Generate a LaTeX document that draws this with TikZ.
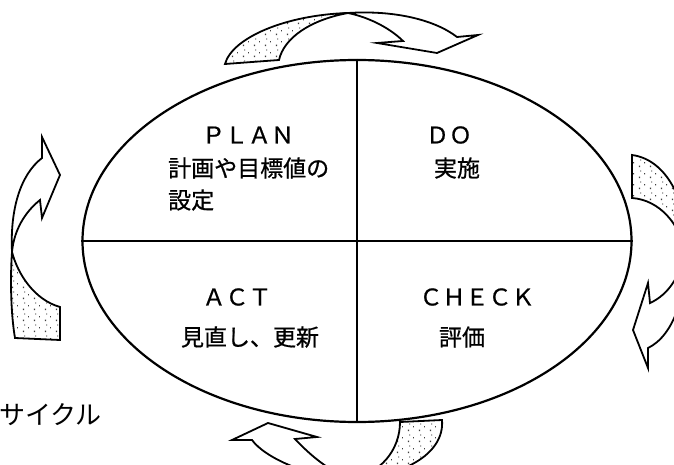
\documentclass[tikz,border=0pt]{standalone}
\usepackage{fontspec}
\newfontfamily\jp[FakeBold=0.7]{Noto Sans CJK JP}
\newfontfamily\jpl{Noto Sans CJK JP}
\usetikzlibrary{shapes.geometric,patterns.meta}
\tikzdeclarepattern{
  name=speckle,
  type=uncolored,
  bounding box={(0pt,0pt) and (11pt,11pt)},
  tile size={(11pt,11pt)},
  code={
    \fill (1pt,1pt) rectangle (2.3pt,2.5pt);
    \fill (6.5pt,5pt) rectangle (7.5pt,6.3pt);
    \fill (2.5pt,8pt) rectangle (3.3pt,9.2pt);
  }
}
\tikzset{
  band/.style={draw=black, line width=1.8pt, line join=miter, fill=white},
  tailpart/.style={draw=black, line width=1.8pt, line join=miter, pattern=speckle, pattern color=black!75},
  lbl/.style={font=\jp\fontsize{23}{27}\selectfont, inner sep=0pt},
}
\begin{document}
\begin{tikzpicture}[x=1pt,y=-1pt]
\useasboundingbox (0,0) rectangle (674,465);
\clip (0,0) rectangle (674,465);
\fill[white] (0,0) rectangle (674,465);

% main ellipse and dividers
\node[ellipse, draw, line width=2.2pt, minimum width=549pt, minimum height=362pt, inner sep=0pt] (cyc) at (357,241) {};
\draw[line width=2.2pt] (cyc.north) -- (cyc.south);
\draw[line width=1.6pt] (cyc.west) -- (cyc.east);

% quadrant texts
\node[lbl] (plan) at (248,135) {ＰＬＡＮ};
\node[lbl, anchor=west] (plan1) at (168,168) {計画や目標値の};
\node[lbl, anchor=west] (plan2) at (168,200) {設定};
\node[lbl] (do) at (449,135) {ＤＯ};
\node[lbl] (do1) at (457,168) {実施};
\node[lbl] (act) at (237,297) {ＡＣＴ};
\node[lbl] (act1) at (250,337) {見直し、更新};
\node[lbl] (check) at (477,297) {ＣＨＥＣＫ};
\node[lbl] (check1) at (462,337) {評価};
\node[font=\jpl\fontsize{26}{30}\selectfont, inner sep=0pt, anchor=west] (cycle) at (-1,415) {サイクル};

% top arrow
\draw[tailpart] (225,64) .. controls (232,38) and (285,15) .. (348,13)
  .. controls (310,20) and (284,38) .. (279,60) -- cycle;
\draw[band] (348,13) .. controls (395,10) and (435,20) .. (457,37)
  -- (478,35) -- (437,53) -- (377,43) -- (403,41)
  .. controls (392,30) and (372,18) .. (348,13) -- cycle;

% left arrow
\draw[band] (12,252) .. controls (10,210) and (20,175) .. (42,158)
  -- (42,137) -- (60,175) -- (42,218) -- (40,200)
  .. controls (25,212) and (14,230) .. (12,252) -- cycle;
\draw[tailpart] (12,252) .. controls (18,275) and (35,300) .. (60,307)
  -- (60,340) -- (15,338) .. controls (11,315) and (10,280) .. (12,252) -- cycle;

% right arrow
\draw[tailpart] (632,155) -- (632,198) .. controls (660,200) and (680,225) .. (684,250)
  .. controls (690,210) and (670,160) .. (632,155) -- cycle;
\draw[band] (684,250) .. controls (682,275) and (668,295) .. (650,303)
  -- (648,283) -- (633,330) -- (648,368) -- (648,348)
  .. controls (675,335) and (688,290) .. (684,250) -- cycle;

% bottom arrow
\draw[tailpart] (400,422) -- (442,420) .. controls (445,455) and (400,478) .. (350,478)
  .. controls (380,475) and (400,450) .. (400,422) -- cycle;
\draw[band] (350,478) .. controls (310,478) and (265,458) .. (252,440)
  -- (232,440) -- (268,423) -- (317,437) -- (295,439)
  .. controls (310,455) and (330,472) .. (350,478) -- cycle;
\end{tikzpicture}
\end{document}
